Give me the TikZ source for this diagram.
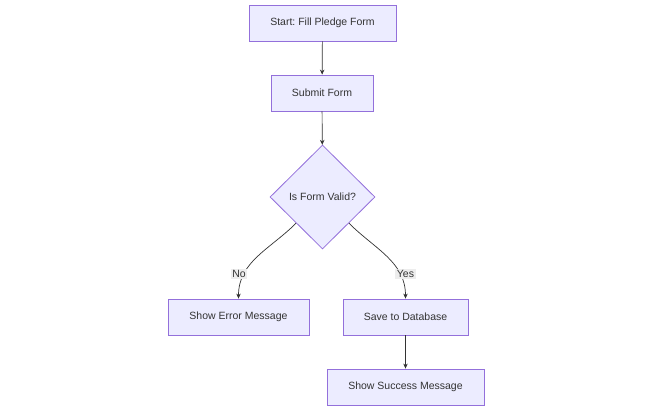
\documentclass[tikz,border=0pt]{standalone}
\usepackage{fontspec}
\setmainfont{Liberation Sans}
\frenchspacing
\usetikzlibrary{shapes.geometric,arrows.meta}
\definecolor{nodefill}{HTML}{ECECFF}
\definecolor{nodeline}{HTML}{9370DB}
\definecolor{edgeline}{HTML}{333333}
\definecolor{lblbg}{HTML}{EDEDED}
\definecolor{txt}{HTML}{333333}
\begin{document}
\begin{tikzpicture}[x=1pt,y=-1pt,
  box/.style={draw=nodeline,fill=nodefill,line width=0.8pt,minimum height=36pt,inner sep=0pt,text=txt,font=\fontsize{10.5}{12}\selectfont},
  decision/.style={diamond,draw=nodeline,fill=nodefill,line width=0.8pt,minimum width=105pt,minimum height=104pt,inner sep=0pt,text=txt,font=\fontsize{10.5}{12}\selectfont},
  edge/.style={draw=edgeline,line width=0.7pt,-{Stealth[length=5pt,width=4.5pt]}},
  lbl/.style={fill=lblbg,inner sep=1.5pt,text=txt,font=\fontsize{10.5}{12}\selectfont}]
\useasboundingbox (0,0) rectangle (654,411);
\node[box,minimum width=147pt] (start) at (322.5,23) {\frenchspacing Start: Fill Pledge Form};
\node[box,minimum width=102pt] (submit) at (322,93) {Submit Form};
\node[decision] (valid) at (322.5,197) {Is Form Valid?};
\node[box,minimum width=141pt] (err) at (238.5,317) {Show Error Message};
\node[box,minimum width=125pt] (save) at (405.5,317) {Save to Database};
\node[box,minimum width=157pt] (succ) at (405.5,387) {Show Success Message};
\draw[edge] (start) -- (submit);
\draw[edge] (submit) -- (valid);
\draw[edge] (valid.south west) to[out=-135,in=90] (err.north);
\draw[edge] (valid.south east) to[out=-45,in=90] (save.north);
\draw[edge] (save) -- (succ);
\node[lbl] (no) at (239,274) {No};
\node[lbl] (yes) at (405.5,274) {Yes};
\end{tikzpicture}
\end{document}
